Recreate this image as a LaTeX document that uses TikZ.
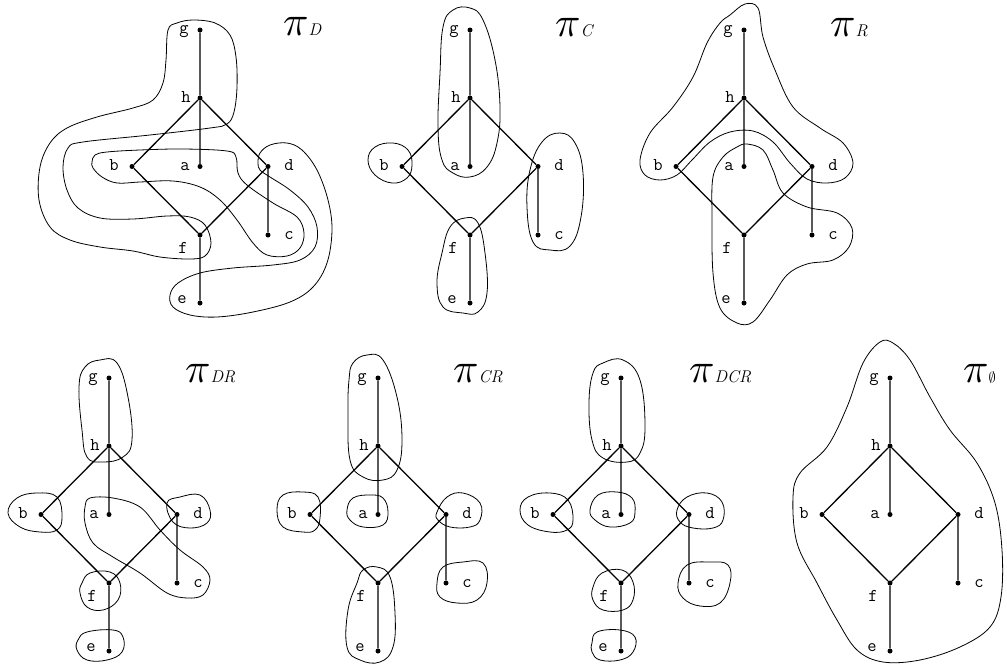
\documentclass[tikz,border=0pt]{standalone}
\usepackage{graphicx}
\usepackage{fontspec}
\newcommand\piT{\scalebox{4.2}{$\pi$}}
\newcommand\sbs[1]{{\fontsize{17}{17}\selectfont\itshape #1}}
\tikzset{
  dot/.style={circle,fill=black,inner sep=0pt,minimum size=5pt},
  lab/.style={font=\fontsize{18}{18}\selectfont\ttfamily,anchor=base,inner sep=0pt},
  edge/.style={line width=1.3pt},
  blob/.style={line width=0.8pt},
  ttl/.style={anchor=base west,inner sep=0pt},
}
\newcommand\lat[3]{%
\begin{scope}[shift={(#2,#3)}]
\node[dot] (#1g) at (0,0) {};
\node[dot] (#1h) at (0,68) {};
\node[dot] (#1a) at (0,136.5) {};
\node[dot] (#1b) at (-68,136.5) {};
\node[dot] (#1d) at (68,136.5) {};
\node[dot] (#1f) at (0,205) {};
\node[dot] (#1c) at (68,205) {};
\node[dot] (#1e) at (0,273) {};
\node[lab] (#1gL) at (-16,3) {g};
\node[lab] (#1hL) at (-14,72) {h};
\node[lab] (#1aL) at (-15,140) {a};
\node[lab] (#1bL) at (-86,140) {b};
\node[lab] (#1dL) at (89,140) {d};
\node[lab] (#1fL) at (-17,223) {f};
\node[lab] (#1cL) at (89,209) {c};
\node[lab] (#1eL) at (-18,273) {e};
\draw[edge] (#1g)--(#1h) (#1h)--(#1a) (#1h)--(#1b) (#1h)--(#1d)
  (#1b)--(#1f) (#1d)--(#1f) (#1d)--(#1c) (#1f)--(#1e);
\end{scope}}
\begin{document}
\begin{tikzpicture}[x=1pt,y=-1pt]
\useasboundingbox (0,0) rectangle (1007,670);
\lat{A}{200}{30}
\lat{B}{470}{30}
\lat{C}{744}{30}
\lat{D}{109}{378}
\lat{E}{378}{378}
\lat{F}{621}{378}
\lat{G}{890}{378}
% titles
\node[ttl] (tD) at (283,35) {\piT\sbs{D}};
\node[ttl] (tC) at (555,36) {\piT\sbs{C}};
\node[ttl] (tR) at (830,36) {\piT\sbs{R}};
\node[ttl] (tDR) at (185,382) {\piT\sbs{DR}};
\node[ttl] (tCR) at (453,382) {\piT\sbs{CR}};
\node[ttl] (tDCR) at (689,382) {\piT\sbs{DCR}};
\node[ttl] (tE) at (963,382) {\piT{\fontsize{15}{15}\selectfont$\emptyset$}};
% ---- graph 1 (pi_D)
\draw[blob] plot[smooth cycle,tension=0.6] coordinates {
(168,30) (177,23) (193,20) (215,23) (230,35) (236,57) (237,87) (234,112) (227,124) (210,128)
(150,135) (83,142) (68,148) (63,167) (67,190) (78,208) (100,218) (133,219) (167,216) (190,217)
(205,225) (211,243) (205,256) (190,259) (160,257) (133,251) (100,247) (70,240) (50,227) (39,200)
(40,167) (50,143) (67,128) (97,117) (133,108) (153,100) (163,83) (166,60)};
\draw[blob] plot[smooth cycle,tension=0.6] coordinates {
(92,162) (95,155) (107,152) (140,150) (183,149) (227,151) (236,157) (238,173) (247,185) (273,203)
(297,217) (304,233) (300,248) (287,256) (267,255) (253,243) (237,220) (220,200) (200,187) (173,181)
(140,182) (117,183) (102,177) (93,168)};
\draw[blob] plot[smooth cycle,tension=0.6] coordinates {
(258,163) (260,153) (270,145) (287,143) (302,150) (317,170) (328,200) (332,230) (327,263) (313,287)
(290,302) (253,312) (217,317) (190,315) (173,307) (170,295) (178,283) (200,273) (233,268) (273,265)
(300,260) (315,247) (317,227) (308,207) (290,190) (270,177) (260,170)};
% ---- graph 2 (pi_C)
\draw[blob] plot[smooth cycle,tension=0.7] coordinates {
(443,27) (453,10) (470,8) (483,20) (495,60) (500,107) (497,143) (487,167) (470,177) (453,173)
(442,160) (438,127) (440,73)};
\draw[blob] plot[smooth cycle,tension=0.7] coordinates {
(368,160) (375,147) (393,143) (408,150) (412,165) (407,178) (392,183) (375,175)};
\draw[blob] plot[smooth cycle,tension=0.7] coordinates {
(560,133) (575,143) (583,173) (581,217) (570,246) (550,250) (533,242) (527,207) (530,170) (542,142)};
\draw[blob] plot[smooth cycle,tension=0.7] coordinates {
(465,218) (478,223) (485,253) (487,293) (478,312) (463,313) (443,307) (437,283) (442,253) (450,227)};
% ---- graph 3 (pi_R)
\draw[blob] plot[smooth cycle,tension=0.6] coordinates {
(730,15) (745,4) (758,8) (763,37) (775,70) (793,107) (820,128) (843,143) (853,163) (845,178)
(827,183) (807,179) (790,163) (773,142) (753,131) (730,132) (710,142) (692,160) (677,175) (660,180)
(645,175) (640,160) (650,133) (673,107) (693,77) (707,43) (720,23)};
\draw[blob] plot[smooth cycle,tension=0.6] coordinates {
(747,144) (763,150) (773,170) (783,193) (807,207) (837,213) (852,228) (849,247) (833,260) (807,264)
(787,275) (770,300) (753,322) (737,323) (720,308) (713,273) (712,217) (713,177) (723,157) (737,147)};
% ---- graph 4 (pi_DR)
\draw[blob] plot[smooth cycle,tension=0.7] coordinates {
(100,360) (117,363) (128,397) (132,440) (123,457) (103,462) (87,457) (82,430) (79,387) (85,367)};
\draw[blob] plot[smooth cycle,tension=0.7] coordinates {
(8,513) (17,498) (37,493) (57,497) (62,517) (57,530) (40,532) (20,527)};
\draw[blob] plot[smooth cycle,tension=0.7] coordinates {
(167,503) (180,497) (200,495) (210,510) (207,523) (190,528) (173,522)};
\draw[blob] plot[smooth cycle,tension=0.7] coordinates {
(82,583) (90,573) (110,572) (120,583) (118,600) (103,610) (87,607) (80,593)};
\draw[blob] plot[smooth cycle,tension=0.7] coordinates {
(78,640) (87,632) (113,630) (123,637) (122,652) (107,660) (87,660) (77,650)};
\draw[blob] plot[smooth cycle,tension=0.6] coordinates {
(90,498) (113,498) (140,507) (160,530) (180,550) (203,567) (210,580) (203,595) (187,598) (167,593)
(140,573) (113,557) (93,543) (85,523) (85,507)};
% ---- graph 5 (pi_CR)
\draw[blob] plot[smooth cycle,tension=0.7] coordinates {
(353,363) (367,355) (383,360) (397,397) (402,440) (397,470) (383,480) (363,477) (350,460) (348,413) (349,380)};
\draw[blob] plot[smooth cycle,tension=0.7] coordinates {
(277,510) (283,495) (303,492) (318,497) (320,518) (315,530) (303,532) (283,527)};
\draw[blob] plot[smooth cycle,tension=0.7] coordinates {
(347,510) (353,498) (370,495) (383,498) (388,512) (383,525) (363,527) (350,520)};
\draw[blob] plot[smooth cycle,tension=0.7] coordinates {
(437,512) (447,497) (463,493) (480,503) (480,520) (470,527) (450,527) (438,520)};
\draw[blob] plot[smooth cycle,tension=0.7] coordinates {
(437,583) (443,567) (463,562) (483,563) (487,583) (477,600) (457,603) (440,597)};
\draw[blob] plot[smooth cycle,tension=0.7] coordinates {
(363,570) (377,567) (390,577) (395,613) (393,647) (380,662) (360,660) (347,647) (348,610) (357,583)};
% ---- graph 6 (pi_DCR)
\draw[blob] plot[smooth cycle,tension=0.7] coordinates {
(593,373) (603,363) (623,360) (640,380) (645,427) (640,453) (627,462) (603,458) (592,440) (589,403)};
\draw[blob] plot[smooth cycle,tension=0.7] coordinates {
(520,510) (528,497) (550,493) (568,500) (573,520) (567,530) (550,532) (528,525)};
\draw[blob] plot[smooth cycle,tension=0.7] coordinates {
(590,510) (598,495) (617,492) (632,498) (635,512) (630,523) (610,527) (595,520)};
\draw[blob] plot[smooth cycle,tension=0.7] coordinates {
(677,510) (687,497) (707,493) (722,502) (723,520) (713,528) (693,528) (680,522)};
\draw[blob] plot[smooth cycle,tension=0.7] coordinates {
(678,583) (687,565) (710,562) (728,565) (730,583) (720,603) (700,606) (683,598)};
\draw[blob] plot[smooth cycle,tension=0.7] coordinates {
(593,587) (602,573) (622,570) (633,582) (633,600) (623,610) (603,610) (593,600)};
\draw[blob] plot[smooth cycle,tension=0.7] coordinates {
(592,643) (597,632) (620,630) (635,637) (633,652) (620,660) (600,660) (592,652)};
% ---- graph 7 (pi_empty)
\draw[blob] plot[smooth cycle,tension=0.6] coordinates {
(880,342) (893,343) (910,360) (930,397) (950,430) (977,463) (995,503) (1002,550) (1001,597) (990,627)
(960,647) (920,660) (883,662) (857,650) (837,620) (817,583) (797,543) (793,497) (800,473) (827,447)
(847,407) (863,363)};
\end{tikzpicture}
\end{document}
